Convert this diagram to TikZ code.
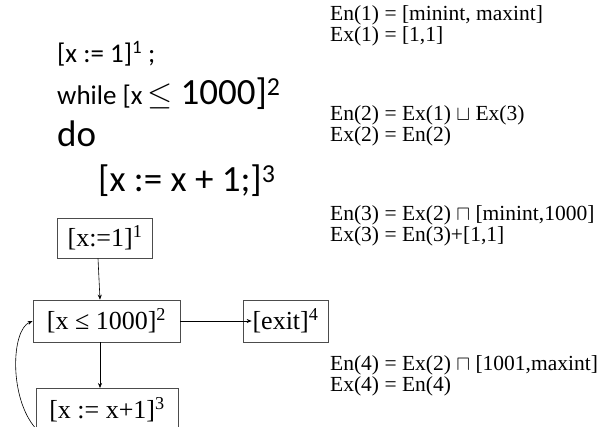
\documentclass[tikz,border=0pt]{standalone}
\usepackage{fontspec}
\setmainfont{Liberation Serif}
\newfontfamily\codefont{Carlito}
\usepackage{amssymb}
\usetikzlibrary{positioning, arrows.meta}
\tikzset{
	blockbox/.style={
			draw=black!70,
			line width=0.7pt,
			minimum height=42pt,
			inner xsep=6pt,
			font=\fontsize{26}{30}\selectfont
		},
	flowarrow/.style={
			-{Stealth[length=5pt, width=4pt]},
			line width=0.6pt,
			black
		},
	eqtext/.style={
			anchor=base west,
			inner sep=0pt,
			font=\fontsize{21.5}{24}\selectfont
		},
	codetext/.style={
			anchor=base west,
			inner sep=0pt,
			font=\codefont\fontsize{27}{31}\selectfont
		},
	bigcode/.style={
			codetext,
			font=\codefont\fontsize{37}{41}\selectfont
		}
}

\begin{document}
\begin{tikzpicture}[x=1pt, y=-1pt]
\useasboundingbox (0,0) rectangle (611,427);

% program text
\node[codetext] (cA) at (57,63) {[x := 1]\textsuperscript{1} ;};
\node[codetext] (cB) at (57,105) {while [x\,\fontsize{37}{41}\selectfont\scalebox{1.3}{$\leq$} 1000]\textsuperscript{2}};
\node[bigcode] (cC) at (57,147) {do};
\node[bigcode] (cD) at (98,192) {[x := x + 1;]\textsuperscript{3}};

% flow graph
\node[blockbox, minimum width=95pt, minimum height=40pt] (b1) at (105,238) {[x:=1]\textsuperscript{1}};
\node[blockbox, minimum width=147pt] (b2) at (106.5,321) {[x ≤ 1000]\textsuperscript{2}};
\node[blockbox, minimum width=85pt] (b4) at (285.5,321) {[exit]\textsuperscript{4}};
\node[blockbox, minimum width=142pt, anchor=north] (b3) at (107,388) {[x := x+1]\textsuperscript{3}};

\draw[flowarrow] ([xshift=-7pt]b1.south) -- ([xshift=-6.5pt]b2.north);
\draw[flowarrow] ([xshift=-6.5pt]b2.south) -- ([xshift=-7pt]b3.north);
\draw[flowarrow] (b2.east) -- ([xshift=9pt]b4.west);
\draw[flowarrow] ([yshift=-19pt]b3.west) .. controls (9,398) and (11,330) .. (b2.west);

% equations
\node[eqtext] (en1) at (330,21) {En(1) = [minint, maxint]};
\node[eqtext] (ex1) at (330,42) {Ex(1) = [1,1]};
\node[eqtext] (en2) at (330,121) {En(2) = Ex(1) $\sqcup$ Ex(3)};
\node[eqtext] (ex2) at (330,142) {Ex(2) = En(2)};
\node[eqtext] (en3) at (330,221) {En(3) = Ex(2) $\sqcap$ [minint,1000]};
\node[eqtext] (ex3) at (330,242) {Ex(3) = En(3)+[1,1]};
\node[eqtext] (en4) at (330,371) {En(4) = Ex(2) $\sqcap$ [1001,maxint]};
\node[eqtext] (ex4) at (330,392) {Ex(4) = En(4)};
\end{tikzpicture}
\end{document}
